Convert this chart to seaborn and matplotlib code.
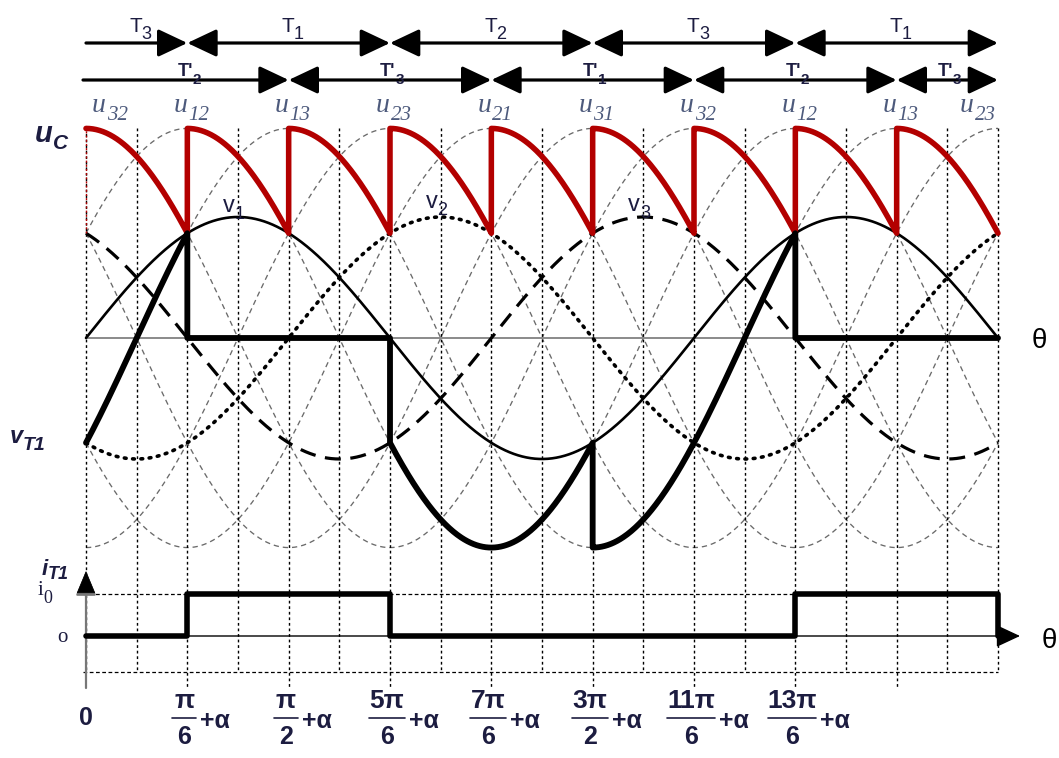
import numpy as np
import pandas as pd
import matplotlib
matplotlib.use("Agg")
import matplotlib.pyplot as plt
import matplotlib.transforms as mtransforms
from matplotlib.lines import Line2D
import seaborn as sns

PI = np.pi

# ---------------- data ----------------
alpha = PI / 6                                   # firing delay used in the drawing
upper_bounds = [0, PI/3, PI, 5*PI/3, 7*PI/3, 3*PI]   # T3 | T1 | T2 | T3 | T1
upper_thyristors = [3, 1, 2, 3, 1]
lower_bounds = [0, 2*PI/3, 4*PI/3, 2*PI, 8*PI/3, 3*PI]  # T'2 | T'3 | T'1 | T'2 | T'3
lower_thyristors = [2, 3, 1, 2, 3]
phase_shift = {1: 0.0, 2: 2*PI/3, 3: 4*PI/3}
phase_amp = 1.0
line_amp = np.sqrt(3)
line_phase = [PI/6 - k*PI/3 for k in range(6)]
line_labels = ["32", "12", "13", "23", "21", "31", "32", "12", "13", "23"]
i0_level = 1.0
tick_base = [PI/6, PI/2, 5*PI/6, 7*PI/6, 3*PI/2, 11*PI/6, 13*PI/6]
tick_num = ["π", "π", "5π", "7π", "3π", "11π", "13π"]
tick_den = ["6", "2", "6", "6", "2", "6", "6"]
grid_step = PI / 6
theta_end = 3 * PI

# ---------------- layout helpers ----------------
W, H = 1059, 758
S = 912 / (3 * PI)          # px per rad
X0 = 86
def th(px):
    return (px - X0) / S
def FY(py):
    return 1 - py / H
def FX(px):
    return px / W

sns.set_theme(style="white")
plt.rcParams["font.family"] = ["Liberation Sans", "DejaVu Sans"]
NAVY = "#1c1c40"
SLATE = "#4d5a7c"
RED = "#b30000"

fig = plt.figure(figsize=(W/100, H/100), dpi=100)
ax = fig.add_axes([0, 0, 1, 1])
ax.set_xlim(-X0 / S, (W - X0) / S)
ax.set_ylim((338 - H) / 121, 338 / 121)
ax.axis("off")
axc = fig.add_axes([0, 0, 1, 1], sharex=ax)
axc.set_ylim((636 - H) / 42, 636 / 42)
axc.axis("off")
axc.patch.set_alpha(0)
bt = mtransforms.blended_transform_factory(ax.transData, fig.transFigure)

def phase(p, t):
    return phase_amp * np.sin(t - phase_shift[p])

def line(x, y, a, **kw):
    sns.lineplot(x=np.asarray(x), y=np.asarray(y), ax=a, sort=False,
                 estimator=None, legend=False, **kw)

theta = np.linspace(0, theta_end, 1500)

# lattice of line voltages
for ph in line_phase:
    line(theta, line_amp * np.sin(theta + ph), ax, color="#6a6a6a", lw=0.95,
         linestyle=(0, (4, 3)), zorder=1)

# zero line
line([0, theta_end], [0, 0], ax, color="#8a8a8a", lw=1.4, zorder=2)

# vertical grid
nk = int(round(theta_end / grid_step))
for k in range(nk + 1):
    xk = k * grid_step
    ybot_px = 688 if (k % 2 == 0 and 0 < k < nk) else 672
    ax.vlines(xk, line_amp, (338 - ybot_px) / 121, colors="black", lw=1.0,
              linestyles=(0, (2, 2)), zorder=2)
ax.vlines(0, line_amp / 2, line_amp, colors=RED, lw=1.0, linestyles=(0, (1.5, 1.5)), zorder=4)

# phase voltages
line(theta, phase(1, theta), ax, color="black", lw=1.9, zorder=3)
line(theta, phase(2, theta), ax, color="black", lw=2.6, linestyle=(0, (0.5, 1.8)),
     dash_capstyle="round", zorder=3)
line(theta, phase(3, theta), ax, color="black", lw=2.3, linestyle=(0, (5, 3)), zorder=3)

# rectified voltage u_C
bounds = sorted(set(upper_bounds) | set(lower_bounds))
ux, uy = [], []
for a, b in zip(bounds[:-1], bounds[1:]):
    m = 0.5 * (a + b)
    top = upper_thyristors[np.searchsorted(upper_bounds, m) - 1]
    bot = lower_thyristors[np.searchsorted(lower_bounds, m) - 1]
    t = np.linspace(a, b, 120)
    ux.append(t); uy.append(phase(top, t) - phase(bot, t))
line(np.concatenate(ux), np.concatenate(uy), ax, color=RED, lw=4.0, zorder=5)

# thyristor voltage v_T1
vx, vy = [], []
for a, b, p in zip(upper_bounds[:-1], upper_bounds[1:], upper_thyristors):
    t = np.linspace(a, b, 200)
    vx.append(t); vy.append(phase(1, t) - phase(p, t))
line(np.concatenate(vx), np.concatenate(vy), ax, color="black", lw=4.2, zorder=6)

# current i_T1 (drops back to zero when the window ends)
ix, iy = [], []
for a, b, p in zip(upper_bounds[:-1], upper_bounds[1:], upper_thyristors):
    lvl = i0_level if p == 1 else 0.0
    ix += [a, b]; iy += [lvl, lvl]
ix.append(theta_end); iy.append(0.0)
line(ix, iy, axc, color="black", lw=4.0, zorder=6)

# current panel frame
axc.hlines([i0_level, -0.857], th(83), theta_end, colors="black", lw=0.9,
           linestyles=(0, (3, 2)), zorder=2)
axc.annotate("", xy=(th(1020), 0), xytext=(0, 0),
             arrowprops=dict(arrowstyle="-|>,head_length=0.6,head_width=0.28", lw=1.0,
                             color="black", shrinkA=0, shrinkB=0, mutation_scale=25), zorder=5)
axc.annotate("", xy=(0, (636 - 571) / 42), xytext=(0, (636 - 688) / 42),
             arrowprops=dict(arrowstyle="-|>,head_length=0.6,head_width=0.25", lw=1.6,
                             color="#777777", shrinkA=0, shrinkB=0, mutation_scale=25), zorder=5)
axc.annotate("", xy=(0, (636 - 571) / 42), xytext=(0, (636 - 584) / 42),
             arrowprops=dict(arrowstyle="-|>,head_length=0.6,head_width=0.25", lw=0.5,
                             color="black", shrinkA=0, shrinkB=0, mutation_scale=25), zorder=6)

# ---------------- conduction arrows ----------------
def arrow_row(bnds, ypx):
    for i, (a, b) in enumerate(zip(bnds[:-1], bnds[1:])):
        style = "-|>" if i == 0 else "<|-|>"
        ax.annotate("", xy=(b, FY(ypx)), xytext=(a, FY(ypx)), xycoords=bt, textcoords=bt,
                    arrowprops=dict(arrowstyle=style + ",head_length=0.72,head_width=0.34",
                                    lw=2.3, color="black", shrinkA=0, shrinkB=0,
                                    mutation_scale=25))
arrow_row(upper_bounds, 43)
arrow_row([th(83)] + lower_bounds[1:], 80)

def sublabel(x, y, base, sub, size, subsize, color, transform, dx=0.3, dy=0.0,
             ha="left", base_kw=None, sub_kw=None):
    base_kw = base_kw or {}
    sub_kw = sub_kw if sub_kw is not None else base_kw
    t = ax.text(x, y, base, transform=transform, fontsize=size, color=color,
                ha=ha, va="baseline", **base_kw)
    ax.annotate(sub, xy=(1, 0), xycoords=t, xytext=(dx, dy), textcoords="offset points",
                fontsize=subsize, color=color, ha="left", va="center", **sub_kw)

for a, b, p in zip(upper_bounds[:-1], upper_bounds[1:], upper_thyristors):
    sublabel(0.5 * (a + b) - th(86 + 7), FY(32), "T", str(p), 15, 13, NAVY, bt, dx=-0.5, dy=1)
for a, b, p in zip([0] + lower_bounds[1:-1], lower_bounds[1:], lower_thyristors):
    sublabel(0.5 * (a + b) - th(86 + 10), FY(76), "T'", str(p), 13, 11, NAVY, bt, dx=0, dy=0,
             base_kw=dict(fontweight="bold"))

# u labels
serif_it = dict(family="Liberation Serif", fontstyle="italic")
for k, lab in enumerate(line_labels):
    xk = k * PI / 3
    if k == 0:
        xk = th(92)
    elif k == len(line_labels) - 1:
        xk = th(960)
    else:
        xk = xk - th(86 + 14)
    sublabel(xk, FY(112), "u", lab, 20, 15, SLATE, bt, dx=0.5, dy=2, base_kw=serif_it)

# phase labels
for p in [1, 2, 3]:
    xp = PI / 2 + phase_shift[p] - th(86 + 15)
    ypx = {1: 212, 2: 208, 3: 211}[p]
    sublabel(xp, FY(ypx), "v", str(p), 17, 13, NAVY, bt, dx=0, dy=2)

# left labels
bi = dict(fontweight="bold", fontstyle="italic")
sublabel(FX(35), FY(142), "u", "C", 21, 15, NAVY, fig.transFigure, dx=0, dy=3, base_kw=bi)
sublabel(FX(10), FY(443), "v", "T1", 17, 14, NAVY, fig.transFigure, dx=0, dy=2, base_kw=bi)
sublabel(FX(42), FY(575), "i", "T1", 16, 13, NAVY, fig.transFigure, dx=0, dy=4, base_kw=bi)
sublabel(FX(38), FY(595), "i", "0", 15, 13, NAVY, fig.transFigure, dx=0, dy=1,
         base_kw=dict(family="Liberation Serif"))
fig.text(FX(57), FY(642), "o", fontsize=15, color=NAVY, family="Liberation Serif")
fig.text(FX(1032), FY(348), "θ", fontsize=20, color="black")
fig.text(FX(1042), FY(648), "θ", fontsize=20, color="black")

# x tick labels
fig.text(FX(86), FY(725), "0", fontsize=18, fontweight="bold", color=NAVY, ha="center")
for base, num, den in zip(tick_base, tick_num, tick_den):
    xt = base + alpha
    cx = X0 + xt * S - 3
    half = 6 + 6 * len(num)
    fig.text(FX(cx), FY(701), num, fontsize=19, fontweight="bold", color=NAVY,
             ha="center", va="center")
    fig.add_artist(Line2D([FX(cx - half), FX(cx + half)], [FY(718), FY(718)],
                          transform=fig.transFigure, color=NAVY, lw=1.2))
    fig.text(FX(cx), FY(737), den, fontsize=18, fontweight="bold", color=NAVY,
             ha="center", va="center")
    fig.text(FX(cx + half + 4), FY(721), "+α", fontsize=18, fontweight="bold", color=NAVY,
             ha="left", va="center")

fig.savefig("out.png", dpi=100, facecolor="white")
